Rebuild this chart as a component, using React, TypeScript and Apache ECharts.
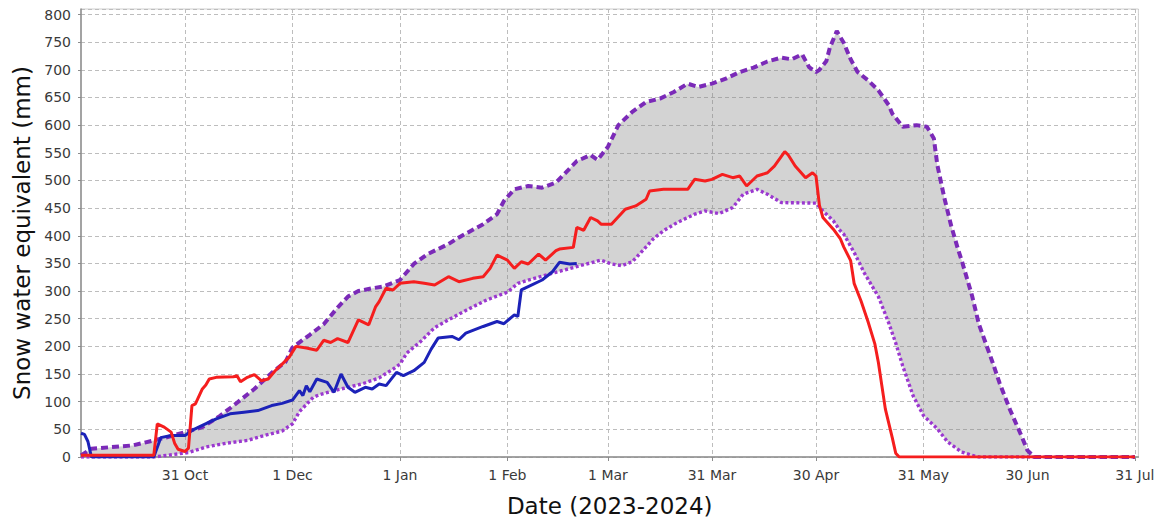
import React, { useEffect, useRef } from "react";
import * as echarts from "echarts";

const START = "2023-10-01";
const END = "2024-08-01";

const tickDates = ["2023-10-31", "2023-12-01", "2024-01-01", "2024-02-01", "2024-03-01", "2024-03-31", "2024-04-30", "2024-05-31", "2024-06-30", "2024-07-31"];
const tickLabels = ["31 Oct", "1 Dec", "1 Jan", "1 Feb", "1 Mar", "31 Mar", "30 Apr", "31 May", "30 Jun", "31 Jul"];

const yMin = 0;
const yMax = 810;
const yStep = 50;

// Historical maximum (dashed purple)
const maxDates = ["2023-10-01", "2023-10-04", "2023-10-16", "2023-10-22", "2023-10-26", "2023-10-31", "2023-11-05", "2023-11-08", "2023-11-10", "2023-11-14", "2023-11-20", "2023-11-25", "2023-11-29", "2023-12-01", "2023-12-06", "2023-12-10", "2023-12-14", "2023-12-17", "2023-12-20", "2023-12-24", "2023-12-27", "2024-01-01", "2024-01-05", "2024-01-09", "2024-01-15", "2024-01-18", "2024-01-25", "2024-01-29", "2024-01-31", "2024-02-03", "2024-02-07", "2024-02-11", "2024-02-15", "2024-02-21", "2024-02-25", "2024-02-27", "2024-03-01", "2024-03-04", "2024-03-08", "2024-03-12", "2024-03-16", "2024-03-20", "2024-03-24", "2024-03-27", "2024-03-31", "2024-04-04", "2024-04-08", "2024-04-12", "2024-04-16", "2024-04-20", "2024-04-23", "2024-04-26", "2024-04-28", "2024-04-30", "2024-05-01", "2024-05-03", "2024-05-04", "2024-05-06", "2024-05-08", "2024-05-10", "2024-05-12", "2024-05-15", "2024-05-18", "2024-05-21", "2024-05-22", "2024-05-25", "2024-05-29", "2024-06-01", "2024-06-03", "2024-06-04", "2024-06-06", "2024-06-08", "2024-06-10", "2024-06-11", "2024-06-14", "2024-06-16", "2024-06-20", "2024-06-22", "2024-06-25", "2024-06-28", "2024-06-30", "2024-07-02", "2024-07-31"];
const maxValues = [3, 15, 21, 30, 36, 45, 54, 66, 74, 93, 123, 152, 172, 198, 221, 240, 270, 290, 300, 305, 308, 320, 349, 367, 385, 397, 421, 439, 463, 484, 490, 487, 496, 535, 546, 537, 561, 600, 624, 642, 648, 660, 675, 669, 675, 684, 696, 704, 715, 722, 719, 728, 705, 696, 700, 716, 740, 770, 749, 719, 696, 681, 663, 636, 621, 597, 600, 597, 576, 528, 469, 418, 375, 356, 292, 240, 170, 133, 85, 42, 12, 0, 0];

// Historical minimum (dotted purple)
const minDates = ["2023-10-01", "2023-10-22", "2023-11-01", "2023-11-06", "2023-11-12", "2023-11-18", "2023-11-23", "2023-11-28", "2023-12-01", "2023-12-03", "2023-12-05", "2023-12-07", "2023-12-09", "2023-12-13", "2023-12-21", "2023-12-26", "2023-12-30", "2024-01-01", "2024-01-03", "2024-01-07", "2024-01-11", "2024-01-15", "2024-01-20", "2024-01-26", "2024-02-01", "2024-02-04", "2024-02-07", "2024-02-15", "2024-02-22", "2024-02-28", "2024-03-02", "2024-03-05", "2024-03-08", "2024-03-11", "2024-03-14", "2024-03-17", "2024-03-21", "2024-03-26", "2024-03-29", "2024-04-02", "2024-04-06", "2024-04-09", "2024-04-13", "2024-04-16", "2024-04-20", "2024-04-30", "2024-05-02", "2024-05-05", "2024-05-07", "2024-05-08", "2024-05-11", "2024-05-14", "2024-05-18", "2024-05-21", "2024-05-23", "2024-05-25", "2024-05-28", "2024-05-31", "2024-06-04", "2024-06-07", "2024-06-11", "2024-06-14", "2024-06-16", "2024-07-31"];
const minValues = [0, 0, 8, 18, 25, 30, 39, 47, 60, 82, 95, 108, 113, 120, 132, 143, 159, 168, 188, 209, 234, 248, 265, 284, 298, 314, 320, 334, 346, 356, 349, 346, 353, 373, 394, 409, 424, 439, 445, 440, 451, 475, 484, 475, 460, 459, 445, 427, 409, 403, 370, 332, 290, 242, 206, 165, 111, 75, 51, 27, 9, 3, 0, 0];

// Season 2023-2024 (red)
const redDates = ["2023-10-01", "2023-10-22", "2023-10-23", "2023-10-25", "2023-10-27", "2023-10-28", "2023-10-29", "2023-10-31", "2023-11-01", "2023-11-02", "2023-11-03", "2023-11-05", "2023-11-06", "2023-11-07", "2023-11-09", "2023-11-14", "2023-11-15", "2023-11-16", "2023-11-18", "2023-11-20", "2023-11-22", "2023-11-24", "2023-11-26", "2023-11-28", "2023-11-30", "2023-12-02", "2023-12-05", "2023-12-08", "2023-12-10", "2023-12-12", "2023-12-14", "2023-12-17", "2023-12-20", "2023-12-23", "2023-12-25", "2023-12-26", "2023-12-28", "2023-12-30", "2024-01-01", "2024-01-05", "2024-01-08", "2024-01-11", "2024-01-15", "2024-01-18", "2024-01-22", "2024-01-25", "2024-01-27", "2024-01-29", "2024-02-01", "2024-02-03", "2024-02-05", "2024-02-07", "2024-02-10", "2024-02-12", "2024-02-15", "2024-02-16", "2024-02-20", "2024-02-21", "2024-02-23", "2024-02-25", "2024-02-27", "2024-02-28", "2024-03-02", "2024-03-06", "2024-03-09", "2024-03-12", "2024-03-13", "2024-03-17", "2024-03-24", "2024-03-26", "2024-03-29", "2024-03-31", "2024-04-03", "2024-04-06", "2024-04-08", "2024-04-10", "2024-04-13", "2024-04-16", "2024-04-18", "2024-04-21", "2024-04-22", "2024-04-24", "2024-04-27", "2024-04-29", "2024-04-30", "2024-05-01", "2024-05-02", "2024-05-05", "2024-05-07", "2024-05-08", "2024-05-10", "2024-05-11", "2024-05-13", "2024-05-15", "2024-05-17", "2024-05-18", "2024-05-19", "2024-05-20", "2024-05-22", "2024-05-23", "2024-05-24", "2024-07-31"];
const redValues = [3, 3, 60, 54, 45, 25, 14, 10, 16, 93, 96, 123, 130, 141, 144, 145, 147, 136, 144, 149, 138, 141, 156, 168, 180, 200, 197, 193, 211, 207, 214, 207, 248, 239, 272, 281, 305, 302, 314, 317, 314, 311, 326, 317, 323, 326, 341, 365, 356, 341, 353, 349, 367, 356, 373, 376, 379, 415, 410, 433, 427, 421, 421, 448, 454, 466, 481, 484, 484, 502, 499, 502, 511, 505, 508, 490, 508, 514, 526, 552, 546, 526, 505, 514, 508, 455, 433, 412, 395, 380, 355, 314, 282, 245, 204, 171, 129, 87, 35, 7, 0, 0];

// Season 2024-2025 so far (blue)
const blueDates = ["2023-10-01", "2023-10-02", "2023-10-03", "2023-10-04", "2023-10-22", "2023-10-24", "2023-10-27", "2023-10-31", "2023-11-02", "2023-11-05", "2023-11-09", "2023-11-13", "2023-11-17", "2023-11-21", "2023-11-25", "2023-11-28", "2023-12-01", "2023-12-03", "2023-12-04", "2023-12-05", "2023-12-06", "2023-12-08", "2023-12-11", "2023-12-13", "2023-12-15", "2023-12-17", "2023-12-19", "2023-12-22", "2023-12-24", "2023-12-26", "2023-12-28", "2023-12-31", "2024-01-02", "2024-01-05", "2024-01-08", "2024-01-10", "2024-01-12", "2024-01-16", "2024-01-18", "2024-01-20", "2024-01-25", "2024-01-29", "2024-01-31", "2024-02-03", "2024-02-04", "2024-02-05", "2024-02-07", "2024-02-11", "2024-02-14", "2024-02-16", "2024-02-19", "2024-02-21"];
const blueValues = [43, 41, 28, 0, 0, 35, 39, 39, 48, 57, 69, 78, 81, 84, 93, 97, 103, 120, 111, 129, 118, 141, 135, 117, 150, 126, 117, 126, 123, 132, 129, 153, 147, 156, 171, 195, 215, 218, 212, 224, 236, 245, 241, 257, 254, 302, 308, 320, 335, 352, 349, 350];

function buildDays(start: string, end: string): string[] {
  const out: string[] = [];
  const d = new Date(start + "T00:00:00Z");
  const e = new Date(end + "T00:00:00Z");
  while (d.getTime() <= e.getTime()) {
    out.push(d.toISOString().slice(0, 10));
    d.setUTCDate(d.getUTCDate() + 1);
  }
  return out;
}

const days = buildDays(START, END);
const dayIndex: Record<string, number> = {};
days.forEach((d, i) => (dayIndex[d] = i));
const tickSet = new Set(tickDates);
const labelOf: Record<string, string> = {};
tickDates.forEach((d, i) => (labelOf[d] = tickLabels[i]));

const pairs = (ds: string[], vs: number[]) => ds.map((d, i) => [dayIndex[d], vs[i]]);

const FONT = "DejaVu Sans";

export default function App() {
  const ref = useRef<HTMLDivElement>(null);
  useEffect(() => {
    if (!ref.current) return;
    const chart = echarts.init(ref.current, undefined, { renderer: "svg" });
    const tickFn = (index: number, value: string) => tickSet.has(value);
    chart.setOption({
      animation: false,
      backgroundColor: "#ffffff",
      grid: {
        left: 81,
        right: 25.6,
        top: 9,
        bottom: 60,
        show: true,
        borderColor: "#cfcfcf",
        borderWidth: 1,
        backgroundColor: "transparent",
      },
      xAxis: {
        type: "category",
        data: days,
        boundaryGap: false,
        name: "Date (2023-2024)",
        nameLocation: "middle",
        nameGap: 37,
        nameTextStyle: { fontFamily: FONT, fontSize: 23, color: "#111" },
        axisLine: { show: true, lineStyle: { color: "#8c8c8c", width: 1.5 } },
        axisTick: { show: true, interval: tickFn, length: 4, lineStyle: { color: "#8c8c8c" } },
        axisLabel: {
          interval: tickFn,
          formatter: (v: string) => labelOf[v] || "",
          fontFamily: FONT,
          fontSize: 14,
          color: "#3a3a3a",
          margin: 11,
        },
        splitLine: {
          show: true,
          interval: tickFn,
          lineStyle: { color: "#bdbdbd", type: [4, 3], width: 1 },
        },
      },
      yAxis: {
        type: "value",
        min: yMin,
        max: yMax,
        interval: yStep,
        name: "Snow water equivalent (mm)",
        nameLocation: "middle",
        nameGap: 47,
        nameTextStyle: { fontFamily: FONT, fontSize: 23, color: "#111" },
        axisLine: { show: true, lineStyle: { color: "#8c8c8c", width: 1.5 } },
        axisTick: { show: true, length: 3, lineStyle: { color: "#8c8c8c" } },
        axisLabel: {
          showMaxLabel: false,
          fontFamily: FONT,
          fontSize: 14,
          color: "#3a3a3a",
          margin: 10,
        },
        splitLine: {
          show: true,
          lineStyle: { color: "#bdbdbd", type: [4, 3], width: 1 },
        },
      },
      series: [
        {
          type: "custom",
          name: "range",
          silent: true,
          z: 1,
          data: [[0, 0]],
          encode: { x: 0, y: 1 },
          renderItem: (params: any, api: any) => {
            const pts: number[][] = [];
            maxDates.forEach((d, i) => pts.push(api.coord([dayIndex[d], maxValues[i]])));
            for (let i = minDates.length - 1; i >= 0; i--) {
              pts.push(api.coord([dayIndex[minDates[i]], minValues[i]]));
            }
            return {
              type: "polygon",
              shape: { points: pts },
              style: { fill: "rgba(128,128,128,0.35)", stroke: "none" },
            };
          },
        },
        {
          type: "line",
          name: "Minimum",
          data: pairs(minDates, minValues),
          showSymbol: false,
          symbol: "none",
          z: 3,
          lineStyle: { color: "#9b38d0", width: 3.4, type: [3, 2.5] },
        },
        {
          type: "line",
          name: "Maximum",
          data: pairs(maxDates, maxValues),
          showSymbol: false,
          symbol: "none",
          z: 3,
          lineStyle: { color: "#7b2ab8", width: 4, type: [7, 4] },
        },
        {
          type: "line",
          name: "2024-2025",
          data: pairs(blueDates, blueValues),
          showSymbol: false,
          symbol: "none",
          z: 4,
          lineStyle: { color: "#1c22b8", width: 3 },
        },
        {
          type: "line",
          name: "2023-2024",
          data: pairs(redDates, redValues),
          showSymbol: false,
          symbol: "none",
          z: 5,
          lineStyle: { color: "#f51e1e", width: 3 },
        },
      ],
    });
    return () => chart.dispose();
  }, []);
  return (
    <div
      ref={ref}
      style={{ position: "absolute", left: 0, top: 0, width: 1164, height: 522, background: "#fff" }}
    />
  );
}
